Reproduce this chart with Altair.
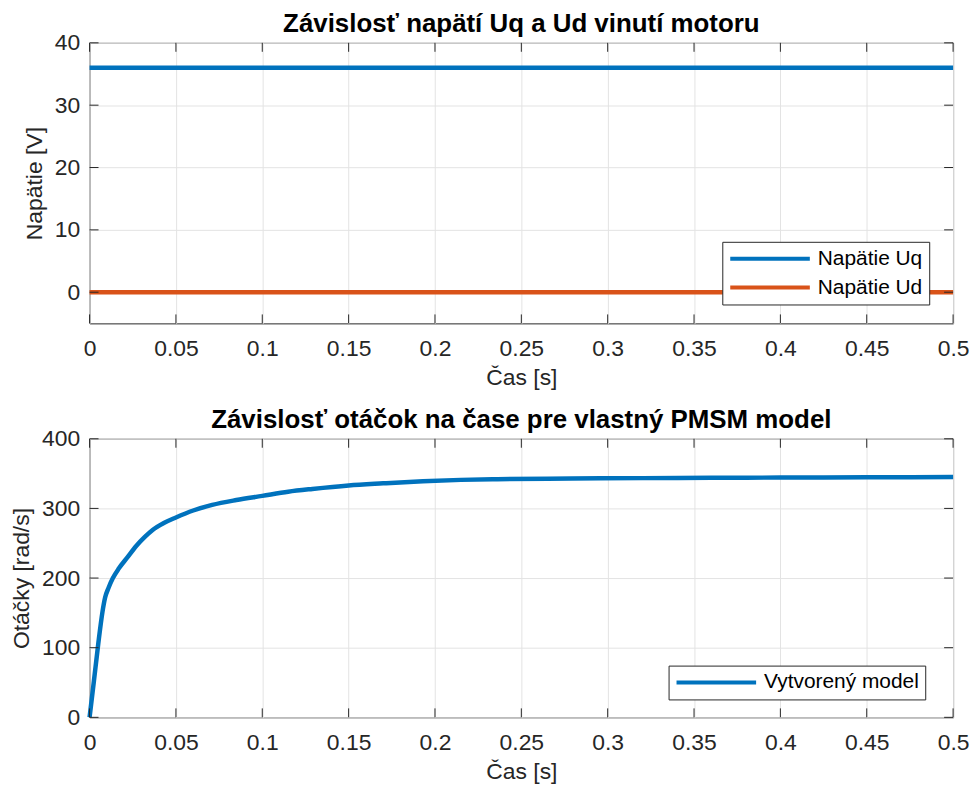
import altair as alt
import pandas as pd

# ---------------- data ----------------
t_top = [0.0, 0.5]
u_q = [36.0, 36.0]
u_d = [0.0, 0.0]
series_top = ["Napätie Uq", "Napätie Ud"]

t_speed = [0, 0.0025, 0.005, 0.0075, 0.009, 0.011, 0.0135, 0.017, 0.022, 0.027,
           0.032, 0.0365, 0.043, 0.05, 0.06, 0.071, 0.085, 0.1, 0.115, 0.129,
           0.15, 0.17, 0.193, 0.215, 0.236, 0.279, 0.32, 0.36, 0.40, 0.45, 0.5]
speed = [0, 52, 105, 152, 172, 186, 200, 214, 230, 246,
         259, 269, 279, 287, 297, 305, 312, 318, 324, 328,
         333, 336, 339, 341, 342, 343, 343.5, 344, 344.3, 344.6, 345]
series_bot = ["Vytvorený model"]

x_ticks = [0, 0.05, 0.1, 0.15, 0.2, 0.25, 0.3, 0.35, 0.4, 0.45, 0.5]
y_ticks_top = [0, 10, 20, 30, 40]
y_ticks_bot = [0, 100, 200, 300, 400]

# ---------------- style ----------------
W = 868
H1 = 282
H2 = 280
BLUE = "#0072BD"
ORANGE = "#D95319"
TXT = "#262626"
GRID = "#e3e3e3"
FONT = "Liberation Sans"
TICK = 9

AXSTYLE = dict(labelFont=FONT, labelFontSize=23, labelColor=TXT, labelFlush=False,
               titleFont=FONT, titleFontSize=23, titleFontWeight="normal",
               titleColor=TXT, gridColor=GRID, gridWidth=1, gridOpacity=1)


def panel(df, colors, domain_series, xlabel, ylabel, ydomain, yticks, H, title, legend_xy):
    xscale = alt.Scale(domain=[0, 0.5], nice=False, zero=False)
    yscale = alt.Scale(domain=ydomain, nice=False, zero=False)
    xaxis = alt.Axis(values=x_ticks, format=".2~f", grid=True, ticks=False, domain=False,
                     labelPadding=14, title=xlabel, titlePadding=6, **AXSTYLE)
    yaxis = alt.Axis(values=yticks, grid=True, ticks=False, domain=False,
                     labelPadding=10, title=ylabel, titlePadding=8, **AXSTYLE)

    lines = alt.Chart(df).mark_line(strokeWidth=4.5, interpolate="monotone").encode(
        x=alt.X("t:Q", scale=xscale, axis=xaxis),
        y=alt.Y("v:Q", scale=yscale, axis=yaxis),
        color=alt.Color("s:N", scale=alt.Scale(domain=domain_series, range=colors),
                        sort=domain_series,
                        legend=alt.Legend(title=None, orient="none",
                                          legendX=legend_xy[0], legendY=legend_xy[1],
                                          symbolType="stroke", symbolSize=6400,
                                          symbolStrokeWidth=4, labelFontSize=21,
                                          labelFont=FONT, labelColor="#000",
                                          fillColor="white", strokeColor=TXT,
                                          padding=6, rowPadding=7, labelOffset=6,
                                          clipHeight=22)),
        detail="s:N",
    )

    xt = pd.DataFrame({"x": x_ticks})
    yt = pd.DataFrame({"y": yticks})
    xb = alt.Chart(xt).mark_rule(color=TXT, strokeWidth=1).encode(
        x=alt.X("x:Q", scale=xscale, axis=xaxis), y=alt.value(H), y2=alt.value(H - TICK))
    xtp = alt.Chart(xt).mark_rule(color=TXT, strokeWidth=1).encode(
        x=alt.X("x:Q", scale=xscale, axis=xaxis), y=alt.value(0), y2=alt.value(TICK))
    yl = alt.Chart(yt).mark_rule(color=TXT, strokeWidth=1).encode(
        y=alt.Y("y:Q", scale=yscale, axis=yaxis), x=alt.value(0), x2=alt.value(TICK))
    yr = alt.Chart(yt).mark_rule(color=TXT, strokeWidth=1).encode(
        y=alt.Y("y:Q", scale=yscale, axis=yaxis), x=alt.value(W), x2=alt.value(W - TICK))

    return alt.layer(lines, xb, xtp, yl, yr).properties(
        width=W, height=H,
        title=alt.Title(title, fontSize=26, font=FONT, fontWeight="bold", color="#000",
                        anchor="middle", frame="group", offset=-5),
    )


df_top = pd.concat([
    pd.DataFrame({"t": t_top, "v": u_q, "s": series_top[0]}),
    pd.DataFrame({"t": t_top, "v": u_d, "s": series_top[1]}),
])
df_bot = pd.DataFrame({"t": t_speed, "v": speed, "s": series_bot[0]})

top = panel(df_top, [BLUE, ORANGE], series_top, "Čas [s]", "Napätie [V]", [-5, 40],
            y_ticks_top, H1, "Závislosť napätí Uq a Ud vinutí motoru", (636, 200))
bot = panel(df_bot, [BLUE], series_bot, "Čas [s]", "Otáčky [rad/s]", [0, 400],
            y_ticks_bot, H2, "Závislosť otáčok na čase pre vlastný PMSM model", (582, 228))

chart = alt.vconcat(top, bot, spacing=16).resolve_scale(
    color="independent"
).resolve_legend(color="independent").properties(
    padding={"left": 2, "top": 0, "right": 0, "bottom": 0},
    background="white",
).configure_view(stroke=TXT, strokeWidth=1)

chart.save("out.html", embed_options={"renderer": "svg", "actions": False})
